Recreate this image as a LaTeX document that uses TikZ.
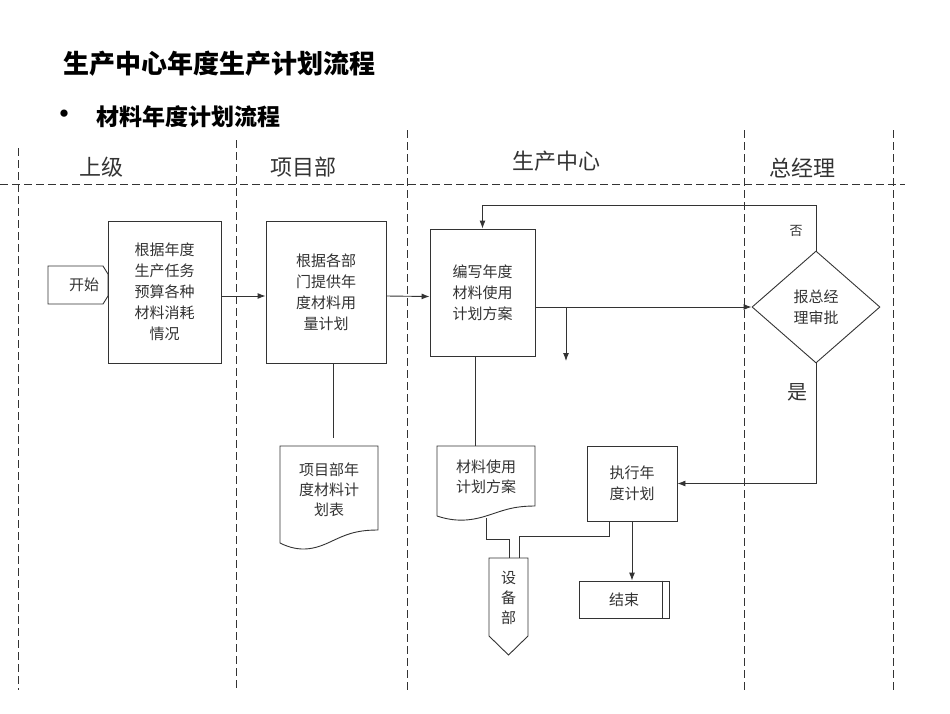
\documentclass[tikz,border=0pt]{standalone}
\usepackage{fontspec}
\setmainfont{Noto Sans CJK SC}
\usetikzlibrary{arrows.meta,positioning,calc,shapes.geometric}
\definecolor{linegray}{HTML}{333333}
\definecolor{textgray}{HTML}{333333}
\tikzset{
  lane/.style={linegray, line width=0.8pt, dash pattern=on 8pt off 4pt},
  stepbox/.style={draw=linegray, line width=0.9pt, fill=white, align=center, inner sep=0pt,
    font=\fontsize{15}{21}\selectfont, text=textgray},
  steptext/.style={align=center, inner sep=0pt, font=\fontsize{15}{20}\selectfont, text=textgray},
  lanetitle/.style={font=\fontsize{22}{24}\selectfont, text=textgray},
  flow/.style={-{Latex[length=8pt,width=6pt]}, linegray, line width=0.9pt},
  link/.style={linegray, line width=0.9pt},
}
\begin{document}
\begin{tikzpicture}[x=1pt,y=-1pt]
	\useasboundingbox (0,0) rectangle (950,713);
	% titles
	\node[anchor=west, font=\bfseries\fontsize{26}{28}\selectfont] (title) at (60,64) {生产中心年度生产计划流程};
	\node[font=\bfseries\fontsize{26}{28}\selectfont] (bullet) at (64,117) {•};
	\node[anchor=west, font=\bfseries\fontsize{23}{25}\selectfont] (subtitle) at (93,117) {材料年度计划流程};
	% swim lanes
	\draw[lane] (0,184) -- (905,184);
	\draw[lane] (18,148) -- (18,690);
	\draw[lane] (236,140) -- (236,690);
	\draw[lane] (407,130) -- (407,690);
	\draw[lane] (744,130) -- (744,690);
	\draw[lane] (893,130) -- (893,690);
	\node[lanetitle] (superior) at (101,167) {上级};
	\node[lanetitle] (project) at (303,167) {项目部};
	\node[lanetitle] (center) at (556,161) {生产中心};
	\node[lanetitle] (manager) at (802,168) {总经理};
	% start
	\draw[link] (48,266) -- (103,266) -- (108,274) -- (108,296) -- (103,304) -- (48,304) -- cycle;
	\node[steptext] (start) at (84,285) {开始};
	% process boxes
	\node[stepbox, minimum width=113pt, minimum height=142pt] (budget) at (164.5,292) {根据年度\\生产任务\\预算各种\\材料消耗\\情况};
	\node[stepbox, minimum width=120pt, minimum height=142pt] (collect) at (326,292) {根据各部\\门提供年\\度材料用\\量计划};
	\node[stepbox, minimum width=105pt, minimum height=127pt] (draft) at (482.5,292.5) {编写年度\\材料使用\\计划方案};
	\node[draw=linegray, line width=0.9pt, diamond, aspect=1.14, minimum width=128pt, minimum height=112pt,
		inner sep=0pt, align=center, font=\fontsize{15}{21}\selectfont, text=textgray] (approve) at (816,307) {报总经\\理审批};
	\node[stepbox, minimum width=90pt, minimum height=75pt] (execute) at (632,483.5) {执行年\\度计划};
	\node[stepbox, minimum width=90pt, minimum height=37pt] (finish) at (624,599.5) {结束};
	\draw[link] ([xshift=-7pt]finish.north east) -- ([xshift=-7pt]finish.south east);
	% documents
	\draw[link, fill=white] (280,543) -- (280,446) -- (378,446) -- (378,530)
		.. controls (355,530) and (345,535) .. (330,542) .. controls (315,549) and (300,553) .. (280,543);
	\node[steptext] (sheet) at (329,490) {项目部年\\度材料计\\划表};
	\draw[link, fill=white] (437,516) -- (437,446) -- (535,446) -- (535,506)
		.. controls (512,506) and (502,511) .. (486,516) .. controls (470,521) and (455,522) .. (437,516);
	\node[steptext] (usage) at (486,477) {材料使用\\计划方案};
	\draw[link, fill=white] (489,558) -- (528,558) -- (528,636) -- (508.5,655) -- (489,636) -- cycle;
	\node[steptext, font=\fontsize{15}{20}\selectfont] (equip) at (508.5,598) {设\\备\\部};
	% connectors
	\coordinate (sheetgap) at (333,438);
	\coordinate (branch) at (566,307);
	\coordinate (drop) at (566,361);
	\coordinate (ret) at (816,205);
	\coordinate (usageout) at (486,518);
	\draw[flow] ([yshift=-4pt]budget.east) -- ([yshift=-4pt]collect.west);
	\draw[flow] ([yshift=-4pt]collect.east) -- ([yshift=-4pt]draft.west);
	\draw[flow] (draft.east |- approve.west) -- (approve.west);
	\draw[flow] (branch) -- (drop);
	\draw[flow] (approve.north) -- (ret) -| (draft.north);
	\node[font=\fontsize{13}{15}\selectfont, text=textgray] (no) at (796,231) {否};
	\draw[flow] (approve.south) |- (execute.east);
	\node[font=\fontsize{20}{22}\selectfont, text=textgray] (yes) at (797,392) {是};
	\draw[link] ([xshift=7pt]collect.south) -- (sheetgap);
	\draw[link] ([xshift=-7.5pt]draft.south) -- (475,446);
	\draw[link] (usageout) |- (509,539) -- (509,558);
	\draw[link] ([xshift=-23pt]execute.south) |- (519,536) -- (519,558);
	\draw[flow] (execute.south) -- (execute.south |- finish.north);
\end{tikzpicture}
\end{document}
